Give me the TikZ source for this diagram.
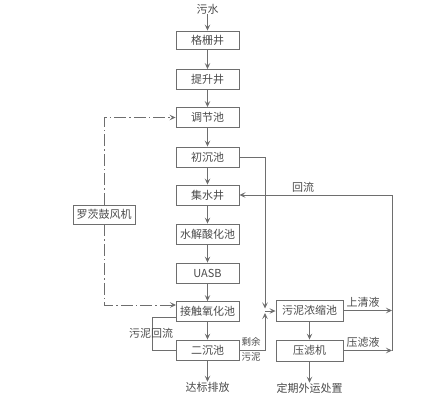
\documentclass[tikz,border=0pt]{standalone}
\usepackage{fontspec}
\setmainfont{Noto Sans CJK SC}
\usetikzlibrary{arrows.meta}
\definecolor{txt}{HTML}{4A4A4A}
\definecolor{ln}{HTML}{6E6E6E}
\tikzset{
  box/.style={draw=ln, line width=0.9pt, minimum height=20pt, inner xsep=0pt, inner ysep=0pt, text=txt, font=\fontsize{11}{12}\selectfont},
  mainbox/.style={box, minimum width=63pt},
  lbl/.style={text=txt, font=\fontsize{11}{12}\selectfont, inner sep=0pt},
  small/.style={text=txt, font=\fontsize{9.5}{10}\selectfont, inner sep=0pt},
  conn/.style={draw=ln, line width=0.8pt},
  arr/.style={conn, -{Stealth[length=6pt,width=5.5pt,inset=2.5pt]}},
  dd/.style={arr, dash pattern=on 12pt off 3pt on 1.5pt off 3pt}
}
\begin{document}
\begin{tikzpicture}[x=1pt,y=-1pt]
\useasboundingbox (0,0) rectangle (427,410);
\node[lbl] (ws) at (207.5,9) {污水};
\node[mainbox, minimum height=18pt] (gs) at (207.5,40) {格栅井};
\node[mainbox] (ts) at (207.5,79.5) {提升井};
\node[mainbox] (tj) at (207.5,117.5) {调节池};
\node[mainbox] (cc) at (207.5,157) {初沉池};
\node[mainbox] (js) at (207.5,195) {集水井};
\node[mainbox] (sj) at (207.5,234) {水解酸化池};
\node[mainbox] (ua) at (207.5,273) {UASB};
\node[mainbox] (jc) at (207.5,311.5) {接触氧化池};
\node[mainbox] (ec) at (207.5,350) {二沉池};
\node[lbl] (db) at (207.5,387) {达标排放};
\node[box, minimum width=62pt, minimum height=19pt] (lc) at (104,214.5) {罗茨鼓风机};
\node[box, minimum width=67pt, minimum height=21pt] (wn) at (309.5,310.5) {污泥浓缩池};
\node[box, minimum width=67pt, minimum height=21pt] (yl) at (309.5,350.5) {压滤机};
\node[lbl] (dq) at (309.5,388) {定期外运处置};
% main flow
\draw[arr] (ws) -- (gs);
\draw[arr] (gs) -- (ts);
\draw[arr] (ts) -- (tj);
\draw[arr] (tj) -- (cc);
\draw[arr] (cc) -- (js);
\draw[arr] (js) -- (sj);
\draw[arr] (sj) -- (ua);
\draw[arr] (ua) -- (jc);
\draw[arr] (jc) -- (ec);
\draw[arr] (ec) -- (db);
% blower
\coordinate (jcin) at (176,305);
\draw[dd] (lc.north) |- (tj.west);
\draw[dd] (lc.south) |- (jcin);
% sludge return
\coordinate (r1) at (152,350);
\coordinate (r2) at (152,317);
\coordinate (r3) at (176,317);
\draw[conn] (ec.west) -- (r1) -- (r2) -- (r3);
\node[lbl] (wnhl) at (151,333) {污泥回流};
% sludge to thickener
\coordinate (s1) at (265,157);
\coordinate (s2) at (265,308.5);
\coordinate (s3) at (265,350);
\coordinate (s4) at (265,313);
\coordinate (s5) at (265,311);
\draw[arr] (cc.east) -- (s1) -- (s2);
\draw[arr] (ec.east) -- (s3) -- (s4);
\draw[arr] (s5) -- (wn.west |- s5);
\node[small] (sy1) at (251,342) {剩余};
\node[small] (sy2) at (251,357) {污泥};
% thickener to press
\draw[arr] (wn) -- (yl);
\draw[arr] (yl) -- (dq);
% return
\coordinate (q1) at (392,310.5);
\coordinate (q2) at (392,350.5);
\coordinate (q3) at (392,195);
\draw[arr] (wn.east) -- (q1);
\draw[arr] (yl.east) -- (q2);
\draw[arr] (q2) -- (q3) -- (js.east);
\node[lbl] (sq) at (363,302) {上清液};
\node[lbl] (yly) at (363,342) {压滤液};
\node[lbl] (hl) at (303,187) {回流};
\end{tikzpicture}
\end{document}
